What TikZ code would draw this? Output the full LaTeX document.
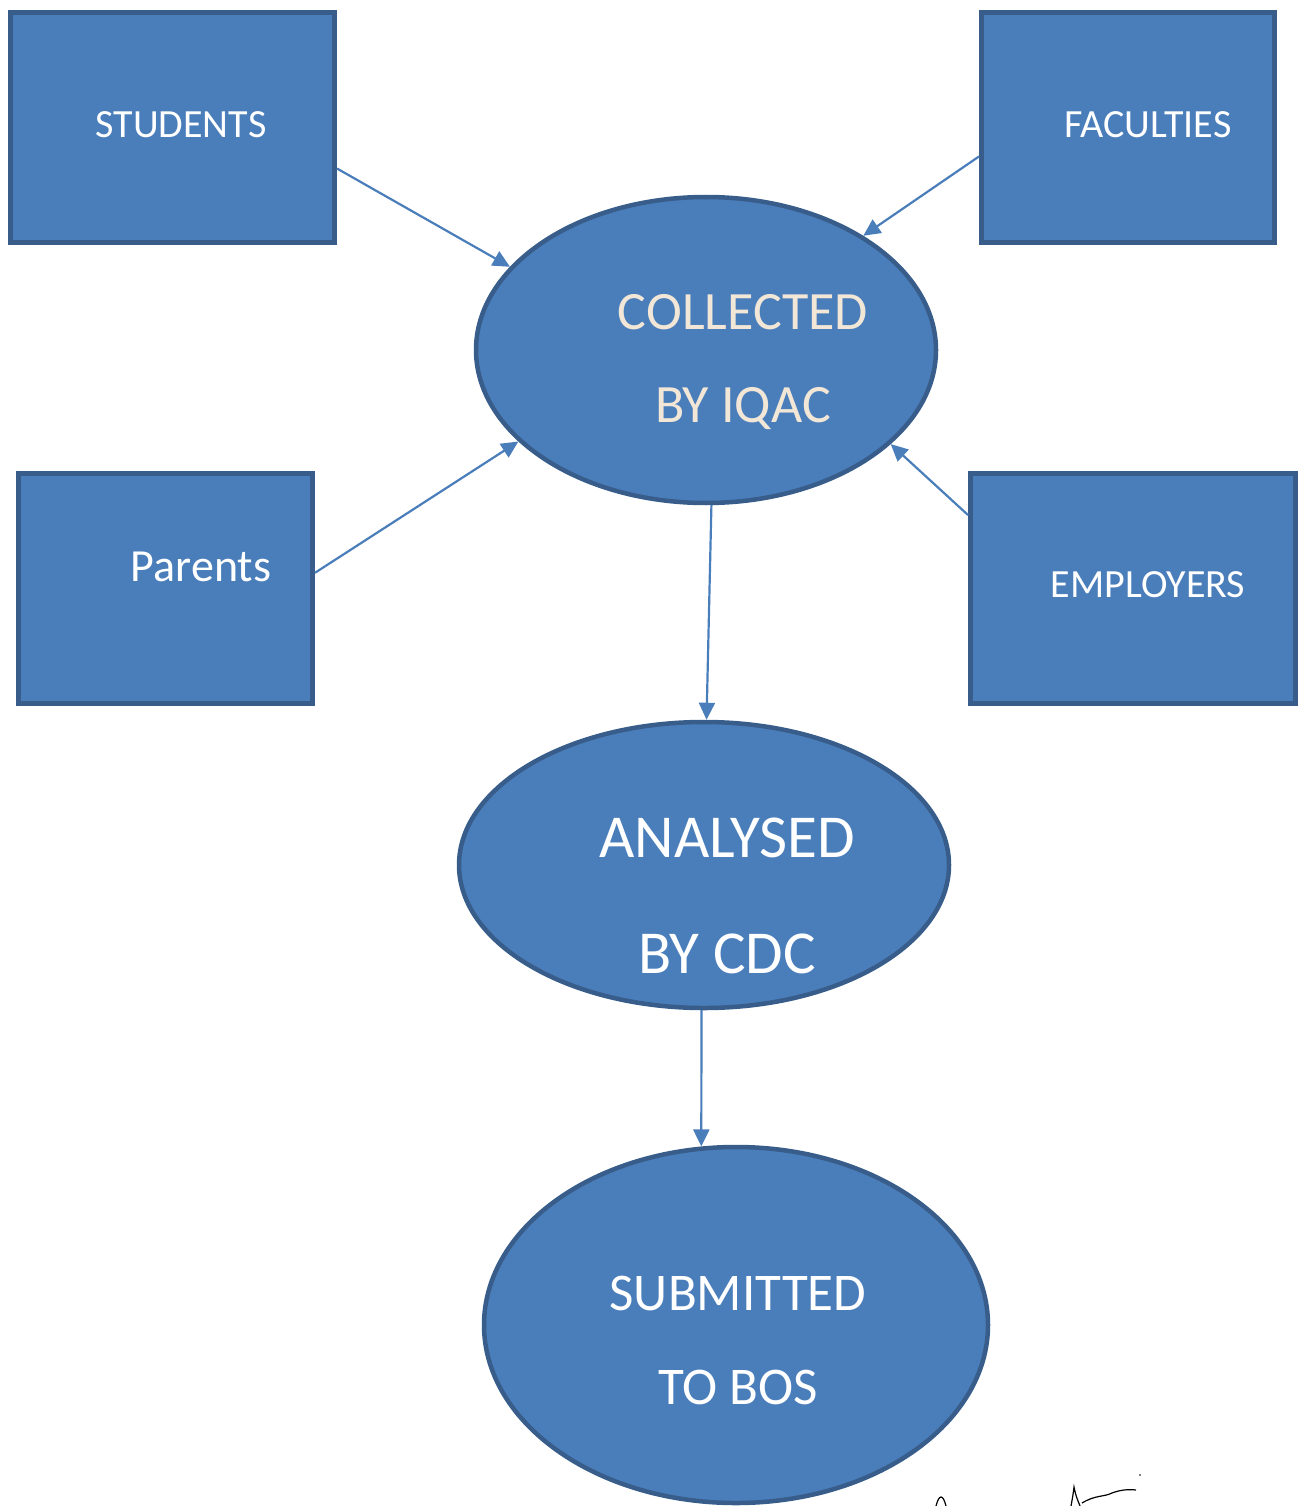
\documentclass[tikz,border=0pt]{standalone}
\usepackage{fontspec}
\setmainfont{Carlito}
\usetikzlibrary{shapes.geometric,arrows.meta}
\definecolor{boxblue}{RGB}{74,126,187}
\definecolor{edgeblue}{RGB}{56,93,138}
\definecolor{cream}{RGB}{242,230,215}
\begin{document}
\begin{tikzpicture}[x=1pt,y=1pt,
    box/.style={draw=edgeblue,line width=5pt,fill=boxblue,minimum height=230pt},
    blob/.style={ellipse,draw=edgeblue,line width=4.5pt,fill=boxblue},
    txt/.style={text=white,align=center,inner sep=0pt},
    link/.style={draw=boxblue,line width=2.2pt,-{Triangle[length=17pt,width=16pt]}}]
    \useasboundingbox (0,0) rectangle (1308,-1506);

    % sources
    \node[box,minimum width=324pt,label={[txt,font=\fontsize{40}{43}\selectfont,xshift=8.5pt,yshift=2.5pt]center:STUDENTS}] (students) at (172.5,-127.5) {};
    \node[box,minimum width=293pt,label={[txt,font=\fontsize{40}{43}\selectfont,xshift=20pt,yshift=2.5pt]center:FACULTIES}] (faculties) at (1128,-127.5) {};
    \node[box,minimum width=294pt,label={[txt,font=\fontsize{46}{49}\selectfont,xshift=35.5pt,yshift=21.5pt]center:Parents}] (parents) at (165.5,-588.5) {};
    \node[box,minimum width=325pt,label={[txt,font=\fontsize{40}{43}\selectfont,xshift=15pt,yshift=3.5pt]center:EMPLOYERS}] (employers) at (1133,-588.5) {};

    % stages
    \node[blob,minimum width=460pt,minimum height=306pt,label={[txt,text=cream,font=\fontsize{54}{93}\selectfont,xshift=37pt,yshift=-12pt]center:COLLECTED\\BY IQAC}] (iqac) at (706,-350) {};
    \node[blob,minimum width=490pt,minimum height=286pt,label={[txt,font=\fontsize{61}{116}\selectfont,xshift=23pt,yshift=-31pt]center:ANALYSED\\BY CDC}] (cdc) at (704,-865) {};
    \node[blob,minimum width=504pt,minimum height=356pt,label={[txt,font=\fontsize{53}{94}\selectfont,xshift=2pt,yshift=-15pt]center:SUBMITTED\\TO BOS}] (bos) at (736,-1325) {};

    \draw[link] (students.-14.4) -- (iqac.157);
    \draw[link] (faculties.191.1) -- (iqac.36);
    \draw[link] (parents.6.3) -- (iqac.206);
    \draw[link] (employers.156.4) -- (iqac.-27.3);
    \draw[link] (iqac.-88.6) -- (cdc.89);
    \draw[link] (cdc.-91) -- (bos.101.9);

    % scribble
    \draw[line width=1.2pt] (936,-1506) .. controls (939,-1494) and (943,-1494) .. (946,-1506);
    \draw[line width=1.2pt] (1071,-1506) .. controls (1073,-1495) .. (1074,-1487) .. controls (1076,-1496) .. (1080,-1506);
    \draw[line width=1.2pt] (1082,-1503) .. controls (1095,-1495) and (1104,-1497) .. (1112,-1493) .. controls (1120,-1490) and (1128,-1489) .. (1136,-1490);
    \fill (1140,-1475) circle (0.8pt);
\end{tikzpicture}
\end{document}
